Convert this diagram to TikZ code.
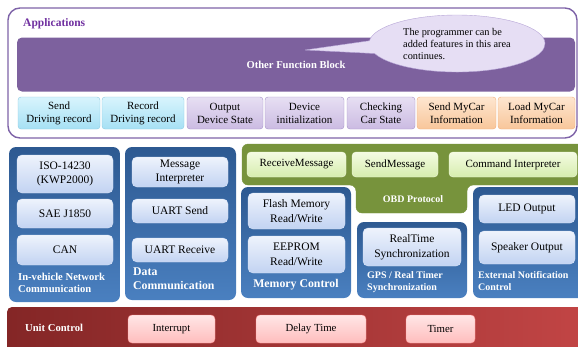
\documentclass[tikz,border=0pt]{standalone}
\usepackage{fontspec}
\setmainfont{Liberation Serif}
\usetikzlibrary{shapes.callouts}

\definecolor{appedge}{HTML}{7E63A8}
\definecolor{apptext}{HTML}{7030A0}
\definecolor{otherblock}{HTML}{7D619E}
\definecolor{cyantop}{HTML}{D8F4FD}
\definecolor{cyanbot}{HTML}{A6E0F4}
\definecolor{cyanedge}{HTML}{8CCBE2}
\definecolor{lavtop}{HTML}{E7DFF3}
\definecolor{lavbot}{HTML}{CBBBE2}
\definecolor{lavedge}{HTML}{A592C8}
\definecolor{orgtop}{HTML}{FEE6D0}
\definecolor{orgbot}{HTML}{F8C69A}
\definecolor{orgedge}{HTML}{F2AE7A}
\definecolor{grouptop}{HTML}{2D5991}
\definecolor{groupbot}{HTML}{4A80C0}
\definecolor{innertop}{HTML}{EEF3FC}
\definecolor{innerbot}{HTML}{C2D3F2}
\definecolor{obdgreen}{HTML}{77933C}
\definecolor{greentop}{HTML}{F4FBE2}
\definecolor{greenbot}{HTML}{D6EDAE}
\definecolor{redleft}{HTML}{842626}
\definecolor{redright}{HTML}{C44646}
\definecolor{pinktop}{HTML}{FFE6E6}
\definecolor{pinkbot}{HTML}{FFBDBD}
\definecolor{calloutfill}{HTML}{E6DEF4}
\definecolor{calloutedge}{HTML}{B6A5D6}

\tikzset{
  appbox/.style={draw, rounded corners=3, align=center, minimum height=32,
    inner sep=1, font=\fontsize{11}{13}\selectfont},
  appcyan/.style={appbox, draw=cyanedge, top color=cyantop, bottom color=cyanbot},
  applav/.style={appbox, draw=lavedge, top color=lavtop, bottom color=lavbot},
  apporange/.style={appbox, draw=orgedge, top color=orgtop, bottom color=orgbot},
  groupbox/.style={rounded corners=7, top color=grouptop, bottom color=groupbot},
  innerbox/.style={draw=innertop!60!innerbot, rounded corners=5, align=center,
    inner sep=1, top color=innertop, bottom color=innerbot,
    font=\fontsize{11.5}{14.5}\selectfont},
  greenbox/.style={draw=greentop, rounded corners=4, inner sep=1,
    top color=greentop, bottom color=greenbot, font=\fontsize{11}{13}\selectfont},
  pinkbox/.style={draw=pinkbot!80!red, rounded corners=4, inner sep=1,
    top color=pinktop, bottom color=pinkbot, minimum height=28,
    font=\fontsize{10.8}{13}\selectfont},
  grouplabel/.style={text=white, font=\bfseries\fontsize{10}{12}\selectfont, align=left, inner sep=0},
  biglabel/.style={text=white, font=\bfseries\fontsize{11.8}{13.5}\selectfont, align=left, inner sep=0}
}

\begin{document}
\begin{tikzpicture}[x=1pt, y=-1pt]
  \useasboundingbox (0,0) rectangle (578,346);
  \clip (0,0) rectangle (578,346);

  % applications layer
  \node[draw=appedge, line width=1.4, rounded corners=12, minimum width=569, minimum height=130] (apps) at (292.5,73) {};
  \node[anchor=west, inner sep=0, text=apptext, font=\bfseries\fontsize{11.5}{13}\selectfont] (appslbl) at (23,24) {Applications};
  \node[fill=otherblock, rounded corners=5, minimum width=558, minimum height=54, text=white,
    font=\bfseries\fontsize{10.6}{13}\selectfont] (other) at (296,64.5) {Other Function Block};
  \node[ellipse callout, draw=calloutedge, fill=calloutfill, minimum width=176, minimum height=57,
    callout absolute pointer={(305,50)}, callout pointer arc=26, align=left, inner sep=0,
    font=\fontsize{10.3}{12}\selectfont] (note) at (457,43.5) {The programmer can be\\added features in this area\\continues.};

  \node[appcyan, minimum width=82] (senddrv) at (59,113) {Send\\Driving record};
  \node[appcyan, minimum width=82] (recdrv) at (143,113) {Record\\Driving record};
  \node[applav, minimum width=76] (outstate) at (225,113) {Output\\Device State};
  \node[applav, minimum width=79] (devinit) at (304.5,113) {Device\\initialization};
  \node[applav, minimum width=68] (checkcar) at (381,113) {Checking\\Car State};
  \node[apporange, minimum width=79] (sendmycar) at (456.5,113) {Send MyCar\\Information};
  \node[apporange, minimum width=77] (loadmycar) at (536.5,113) {Load MyCar\\Information};

  % in-vehicle network
  \node[groupbox, minimum width=111, minimum height=155] (netgrp) at (64.5,224.5) {};
  \node[innerbox, minimum width=96, minimum height=38] (iso) at (65,174) {ISO-14230\\(KWP2000)};
  \node[innerbox, minimum width=96, minimum height=29] (sae) at (65,213.5) {SAE J1850};
  \node[innerbox, minimum width=96, minimum height=30] (can) at (65,250) {CAN};
  \node[grouplabel, anchor=west, font=\bfseries\fontsize{10.6}{12}\selectfont] (netlbl) at (18,283) {In-vehicle Network\\Communication};

  % data communication
  \node[groupbox, minimum width=111, minimum height=153] (datagrp) at (180.5,223.5) {};
  \node[innerbox, minimum width=96, minimum height=30] (msgint) at (180,172) {Message\\Interpreter};
  \node[innerbox, minimum width=96, minimum height=24] (usend) at (180,211) {UART Send};
  \node[innerbox, minimum width=96, minimum height=24] (urecv) at (180,250) {UART Receive};
  \node[biglabel, anchor=west] (datalbl) at (133,278.5) {Data\\Communication};

  % OBD protocol
  \draw[fill=obdgreen, draw=obdgreen, rounded corners=6] (242,144) -- (600,144) -- (600,185)
    -- (467,185) -- (467,213) -- (356,213) -- (356,185) -- (242,185) -- cycle;
  \node[greenbox, minimum width=99, minimum height=25] (recvmsg) at (296.5,164.5) {ReceiveMessage};
  \node[greenbox, minimum width=86, minimum height=25] (sendmsg) at (395,164.5) {SendMessage};
  \node[greenbox, minimum width=128, minimum height=25] (cmdint) at (513,164.5) {Command Interpreter};
  \node[grouplabel] (obdlbl) at (413,199) {OBD Protocol};

  % memory control
  \node[groupbox, minimum width=110, minimum height=111] (memgrp) at (296,242.5) {};
  \node[innerbox, minimum width=97, minimum height=36] (flash) at (296.5,211) {Flash Memory\\Read/Write};
  \node[innerbox, minimum width=97, minimum height=37] (eeprom) at (296.5,254.5) {EEPROM\\Read/Write};
  \node[biglabel] (memlbl) at (296,285) {Memory Control};

  % gps / real timer
  \node[groupbox, minimum width=110, minimum height=76] (gpsgrp) at (412,260) {};
  \node[innerbox, minimum width=98, minimum height=38] (rtsync) at (412,247) {RealTime\\Synchronization};
  \node[grouplabel, anchor=west] (gpslbl) at (367,282) {GPS / Real Timer\\Synchronization};

  % external notification
  \node[groupbox, minimum width=117, minimum height=111] (extgrp) at (531.5,242.5) {};
  \node[innerbox, minimum width=96, minimum height=28] (led) at (527,209) {LED Output};
  \node[innerbox, minimum width=96, minimum height=33] (speaker) at (527,247.5) {Speaker Output};
  \node[grouplabel, anchor=west] (extlbl) at (478,281) {External Notification\\Control};

  % unit control
  \node[rounded corners=5, left color=redleft, right color=redright, minimum width=600, minimum height=60] (unitbar) at (307,337) {};
  \node[text=white, inner sep=0, anchor=west, font=\bfseries\fontsize{10.6}{12}\selectfont] (unitlbl) at (25,328) {Unit Control};
  \node[pinkbox, minimum width=87] (interrupt) at (171.5,329) {Interrupt};
  \node[pinkbox, minimum width=110] (delay) at (311,329) {Delay Time};
  \node[pinkbox, minimum width=69] (timer) at (440.5,329) {Timer};
\end{tikzpicture}
\end{document}
